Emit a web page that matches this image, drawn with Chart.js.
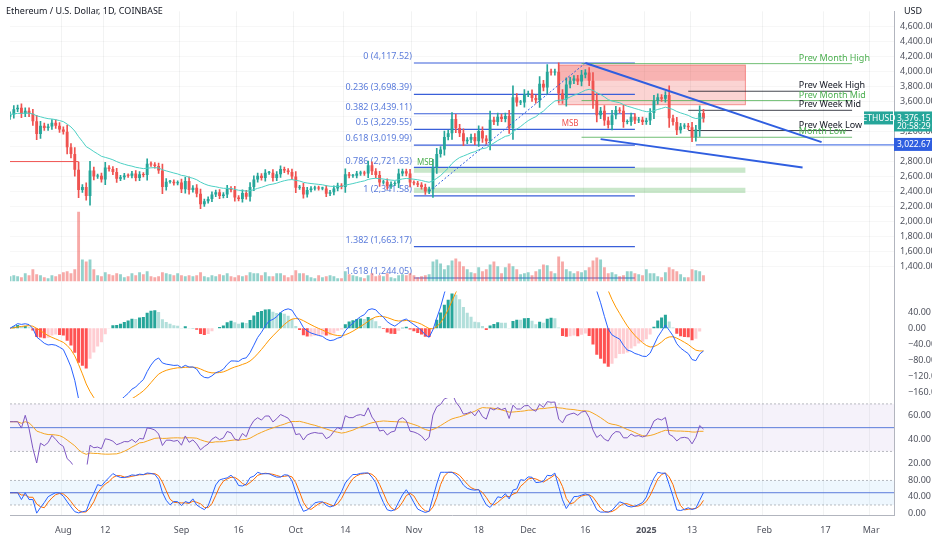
<!DOCTYPE html>
<html lang="en">
<head>
  <meta charset="UTF-8" />
  <title>ETHUSD 1D</title>
  <script src="https://cdn.jsdelivr.net/npm/chart.js"></script>
  <style>
    html, body { margin: 0; padding: 0; background: #fff; }
    #wrap { position: relative; width: 932px; height: 550px; }
    #title { position: absolute; left: 6px; top: 4px; font: 9px "Noto Sans", sans-serif; color: #131722; }
    #usd { position: absolute; right: 10px; top: 4px; font: 9px "Noto Sans", sans-serif; color: #131722; }
  </style>
</head>
<body>
<div id="wrap">
  <canvas id="c" width="932" height="550"></canvas>
  <div id="title">Ethereum / U.S. Dollar, 1D, COINBASE</div>
  <div id="usd">USD</div>
</div>
<script>
// daily closes, 2024-07-18 .. 2025-01-16
const closes = [
  3430,3500,3520,3440,3480,3440,3340,3170,3280,3250,3270,3320,3280,3230,
  3200,2990,2900,2690,2420,2460,2340,2680,2600,2610,2560,2720,2700,2660,2570,2590,2615,2610,2640,2580,2630,2620,2770,2760,2740,2680,2460,2530,2530,2510,2520,
  2430,2540,2420,2450,2370,2230,2270,2300,2360,2390,2340,2360,2440,2420,2320,2300,2380,2330,2460,2560,2610,2580,2650,2650,2580,2630,2700,2680,2660,2600,
  2450,2460,2360,2420,2440,2450,2440,2440,2370,2390,2440,2480,2460,2630,2610,2610,2640,2650,2640,2750,2670,2620,2520,2530,2470,2500,2510,2640,2670,2640,2520,
  2510,2490,2460,2400,2430,2720,2900,2960,3130,3180,3370,3250,3180,3070,3090,3130,3070,3210,3110,3070,3360,3330,3400,3370,3410,3250,3660,3590,3590,3700,
  3710,3650,3620,3840,3790,4000,3990,4000,3710,3630,3830,3880,3910,3870,3960,3990,3880,3620,3420,3480,3350,3290,3420,3490,3480,3330,3330,3400,3350,3360,3330,
  3350,3450,3610,3660,3640,3690,3380,3330,3220,3270,3280,3260,3130,3230,3450,3376.15
];
const firstOpen = 3400;
const volumes = [
  5,6,5,4,8,6,12,7,6,4,3,6,5,7,
  9,10,8,12,70,22,20,22,12,6,5,9,7,6,8,7,4,5,8,6,9,7,10,5,4,5,9,8,7,6,8,
  6,5,6,5,6,9,5,4,6,5,7,6,8,5,4,6,5,6,9,8,8,6,9,5,5,8,8,6,4,6,
  11,8,8,6,4,3,6,4,5,6,5,3,3,10,7,6,5,4,3,6,8,5,6,5,8,4,3,6,7,6,8,
  6,4,5,6,7,20,22,18,12,16,21,23,20,15,12,9,8,14,10,12,17,20,15,8,14,18,15,12,7,8,
  9,6,10,12,17,16,10,8,25,20,12,10,8,10,9,11,14,21,24,22,14,8,9,7,5,6,10,10,8,7,6,
  12,8,8,5,4,9,14,12,10,7,4,4,12,11,10,6
];
const fibLevels = [0, 0.236, 0.382, 0.5, 0.618, 0.786, 1, 1.382, 1.618];
const fibPrices = [4117.52, 3698.39, 3439.11, 3229.55, 3019.99, 2721.63, 2341.58, 1663.17, 1244.05];
const refLines = [
  { text: 'Prev Month High', price: 4109, color: '#4caf50', from: 150 },
  { text: 'Prev Week High', price: 3740, color: '#131722', from: 178 },
  { text: 'Prev Month Mid', price: 3615, color: '#4caf50', from: 150 },
  { text: 'Prev Week Mid', price: 3485, color: '#131722', from: 178 },
  { text: 'Prev Week Low', price: 3215, color: '#131722', from: 178 },
  { text: 'Month Low', price: 3125, color: '#4caf50', from: 150 }
];
const priceTicks = [1400,1600,1800,2000,2200,2400,2600,2800,3000,3200,3400,3600,3800,4000,4200,4400,4600];
const macdTicks = [40, 0, -40, -80, -120, -160];
const rsiTicks = [20, 40, 60];
const stochTicks = [0, 40, 80];
const tickDays = { '08-12': '12', '09-16': '16', '10-14': '14', '11-18': '18', '12-16': '16', '01-13': '13', '02-17': '17' };
const monthNames = ['2025','Feb','Mar','Apr','May','Jun','Jul','Aug','Sep','Oct','Nov','Dec'];

const labels = [];
const start = new Date(Date.UTC(2024, 6, 18));
for (let i = 0; i < 233; i++) {
  const d = new Date(start.getTime() + i * 86400000);
  labels.push(d.toISOString().slice(0, 10));
}

const UP = '#26a69a', DN = '#ef5350';
const opens = closes.map((c, i) => i === 0 ? firstOpen : closes[i - 1]);
const bodies = closes.map((c, i) => [opens[i], c]);
const wicks = closes.map((c, i) => {
  const hi = Math.max(opens[i], c), lo = Math.min(opens[i], c);
  const w = (hi - lo) * 0.3 + hi * 0.008;
  return [lo - w, hi + w];
});
const candleCol = closes.map((c, i) => c >= opens[i] ? UP : DN);
const volBars = volumes.map(v => [1200, 1200 + v * 13.3]);
const volCol = closes.map((c, i) => c >= opens[i] ? 'rgba(38,166,154,0.5)' : 'rgba(239,83,80,0.5)');

function ema(arr, n) {
  const k = 2 / (n + 1); let e = arr[0];
  return arr.map(v => (e = v * k + e * (1 - k)));
}
function sma(arr, n) {
  return arr.map((v, i) => { const s = arr.slice(Math.max(0, i - n + 1), i + 1); return s.reduce((a, b) => a + b, 0) / s.length; });
}
const ema20 = ema(closes, 20);
const ema26 = ema(closes, 26);
const macdLine = ema(closes, 12).map((v, i) => v - ema26[i]);
const signal = ema(macdLine, 9);
const hist = macdLine.map((v, i) => v - signal[i]);
const histCol = hist.map((h, i) => {
  const p = i ? hist[i - 1] : h;
  return h >= 0 ? (h >= p ? '#26a69a' : '#b2dfdb') : (h <= p ? '#ff5252' : '#ffcdd2');
});
// RSI 14 (Wilder)
let ag = 0, al = 0;
const rsi = closes.map((c, i) => {
  const ch = i ? c - closes[i - 1] : 0;
  ag = (ag * 13 + Math.max(ch, 0)) / 14; al = (al * 13 + Math.max(-ch, 0)) / 14;
  return i < 3 ? 55 : 100 - 100 / (1 + ag / (al || 1e-9));
});
const rsiMa = sma(rsi, 14);
const stochRaw = rsi.map((v, i) => {
  const s = rsi.slice(Math.max(0, i - 13), i + 1);
  const mn = Math.min(...s), mx = Math.max(...s);
  return mx === mn ? 50 : (v - mn) / (mx - mn) * 100;
});
const stochK = sma(stochRaw, 3);
const stochD = sma(stochK, 3);

const overlay = {
  id: 'overlay',
  beforeDatasetsDraw(chart) {
    const { ctx } = chart, x = chart.scales.x, y = chart.scales.y;
    const X = i => x.getPixelForValue(i), Y = p => y.getPixelForValue(p);
    ctx.save();
    const r = chart.scales.yRsi, s = chart.scales.yStoch, a = chart.chartArea;
    ctx.fillStyle = 'rgba(126,87,194,0.08)';
    ctx.fillRect(a.left, r.getPixelForValue(70), a.right - a.left, r.getPixelForValue(30) - r.getPixelForValue(70));
    ctx.fillStyle = 'rgba(33,150,243,0.08)';
    ctx.fillRect(a.left, s.getPixelForValue(80), a.right - a.left, s.getPixelForValue(20) - s.getPixelForValue(80));
    ctx.setLineDash([2, 2]); ctx.strokeStyle = 'rgba(120,123,134,0.5)'; ctx.lineWidth = 1;
    [[r, 70], [r, 30], [s, 80], [s, 20]].forEach(([sc, v]) => {
      ctx.beginPath(); ctx.moveTo(a.left, sc.getPixelForValue(v)); ctx.lineTo(a.right, sc.getPixelForValue(v)); ctx.stroke();
    });
    ctx.setLineDash([]);
    ctx.strokeStyle = '#5b7cdb';
    [[r, 50], [s, 50]].forEach(([sc, v]) => {
      ctx.beginPath(); ctx.moveTo(a.left, sc.getPixelForValue(v)); ctx.lineTo(a.right, sc.getPixelForValue(v)); ctx.stroke();
    });
    ctx.fillStyle = 'rgba(239,83,80,0.25)';
    ctx.fillRect(X(144), Y(4090), X(193) - X(144), Y(3560) - Y(4090));
    ctx.fillRect(X(144), Y(4090), X(193) - X(144), Y(3880) - Y(4090));
    ctx.strokeStyle = 'rgba(239,83,80,0.6)';
    ctx.strokeRect(X(144), Y(4090), X(193) - X(144), Y(3560) - Y(4090));
    ctx.fillStyle = 'rgba(76,175,80,0.3)';
    ctx.fillRect(X(106), Y(2720), X(193) - X(106), Y(2650) - Y(2720));
    ctx.fillRect(X(106), Y(2450), X(193) - X(106), Y(2380) - Y(2450));
    ctx.strokeStyle = DN; ctx.beginPath(); ctx.moveTo(a.left, Y(2800)); ctx.lineTo(X(18), Y(2800)); ctx.stroke();
    ctx.font = '9px "Noto Sans", sans-serif'; ctx.textAlign = 'right'; ctx.textBaseline = 'bottom';
    fibPrices.forEach((p, i) => {
      ctx.strokeStyle = '#3a5fd9'; ctx.lineWidth = 1.2;
      ctx.beginPath(); ctx.moveTo(X(106), Y(p)); ctx.lineTo(X(164), Y(p)); ctx.stroke();
      ctx.fillStyle = '#5b7cdb';
      ctx.fillText(fibLevels[i] + ' (' + p.toLocaleString('en-US', { minimumFractionDigits: 2 }) + ')', X(106) - 2, Y(p) - 2);
    });
    ctx.textAlign = 'left';
    refLines.forEach(l => {
      ctx.strokeStyle = l.color; ctx.lineWidth = 0.8;
      ctx.beginPath(); ctx.moveTo(X(l.from), Y(l.price)); ctx.lineTo(X(221), Y(l.price)); ctx.stroke();
      ctx.fillStyle = l.color; ctx.fillText(l.text, X(207), Y(l.price) - 1);
    });
    ctx.restore();
  },
  afterDatasetsDraw(chart) {
    const { ctx } = chart, x = chart.scales.x, y = chart.scales.y;
    const X = i => x.getPixelForValue(i), Y = p => y.getPixelForValue(p);
    ctx.save();
    ctx.strokeStyle = '#2f5ee0'; ctx.lineWidth = 2;
    ctx.beginPath(); ctx.moveTo(X(151), Y(4117)); ctx.lineTo(X(213), Y(3060)); ctx.stroke();
    ctx.beginPath(); ctx.moveTo(X(155), Y(3100)); ctx.lineTo(X(208), Y(2720)); ctx.stroke();
    ctx.lineWidth = 1; ctx.setLineDash([2, 2]);
    ctx.beginPath(); ctx.moveTo(X(110), Y(2400)); ctx.lineTo(X(151), Y(4117)); ctx.stroke();
    ctx.setLineDash([]);
    ctx.beginPath(); ctx.moveTo(X(180), Y(3022.67)); ctx.lineTo(chart.chartArea.right, Y(3022.67)); ctx.stroke();
    ctx.font = '8px "Noto Sans", sans-serif'; ctx.fillStyle = DN; ctx.textAlign = 'center';
    ctx.fillText('MSB', X(147), Y(3270));
    ctx.fillStyle = '#4caf50'; ctx.fillText('MSB', X(109), Y(2760));
    const ax = chart.chartArea.right;
    function tag(p, bg, txt, sub) {
      const yy = Y(p);
      ctx.fillStyle = bg; ctx.fillRect(ax, yy - 7, 38, sub ? 20 : 13);
      ctx.fillStyle = '#fff'; ctx.textAlign = 'left'; ctx.textBaseline = 'middle';
      ctx.font = '8.5px "Noto Sans", sans-serif'; ctx.fillText(txt, ax + 3, yy);
      if (sub) ctx.fillText(sub, ax + 3, yy + 8);
    }
    tag(3376.15, UP, '3,376.15', '20:58:29');
    ctx.fillStyle = UP; ctx.fillRect(ax - 30, Y(3376.15) - 7, 29, 13);
    ctx.fillStyle = '#fff'; ctx.textAlign = 'center'; ctx.fillText('ETHUSD', ax - 15, Y(3376.15));
    tag(3022.67, '#2f5ee0', '3,022.67');
    ctx.restore();
  }
};

const fit = s => { s.width = 38; };
const setTicks = list => s => { s.ticks = list.map(v => ({ value: v })); };
const tickFont = { size: 9, family: '"Noto Sans", sans-serif' };
const fmt2 = v => v.toLocaleString('en-US', { minimumFractionDigits: 2 }).replace('-', '\u2212');
new Chart(document.getElementById('c'), {
  data: {
    labels: labels,
    datasets: [
      { type: 'bar', data: volBars, backgroundColor: volCol, yAxisID: 'y', barPercentage: 0.75, categoryPercentage: 1, grouped: false, order: 5 },
      { type: 'bar', data: wicks, backgroundColor: candleCol, yAxisID: 'y', barThickness: 1, grouped: false, order: 3 },
      { type: 'bar', data: bodies, backgroundColor: candleCol, yAxisID: 'y', barPercentage: 0.75, categoryPercentage: 1, grouped: false, order: 2, minBarLength: 1 },
      { type: 'line', data: ema20, borderColor: '#4dd0c4', borderWidth: 1, pointRadius: 0, yAxisID: 'y', order: 1 },
      { type: 'bar', data: hist, backgroundColor: histCol, yAxisID: 'yMacd', barPercentage: 0.8, categoryPercentage: 1, grouped: false, order: 4 },
      { type: 'line', data: macdLine, borderColor: '#2962ff', borderWidth: 1, pointRadius: 0, yAxisID: 'yMacd', order: 1 },
      { type: 'line', data: signal, borderColor: '#ff9800', borderWidth: 1, pointRadius: 0, yAxisID: 'yMacd', order: 1 },
      { type: 'line', data: rsi, borderColor: '#7e57c2', borderWidth: 1, pointRadius: 0, yAxisID: 'yRsi', order: 1 },
      { type: 'line', data: rsiMa, borderColor: '#f5a623', borderWidth: 1, pointRadius: 0, yAxisID: 'yRsi', order: 1 },
      { type: 'line', data: stochK, borderColor: '#2962ff', borderWidth: 1, pointRadius: 0, yAxisID: 'yStoch', order: 1 },
      { type: 'line', data: stochD, borderColor: '#ff6d00', borderWidth: 1, pointRadius: 0, yAxisID: 'yStoch', order: 1 }
    ]
  },
  options: {
    responsive: false, animation: false,
    layout: { padding: { top: 0, left: 0, right: 0, bottom: 4 } },
    plugins: { legend: { display: false }, tooltip: { enabled: false } },
    scales: {
      x: {
        offset: false,
        grid: { color: ctx => ctx.tick && ctx.tick.label ? 'rgba(42,46,57,0.06)' : 'transparent', drawTicks: false },
        border: { color: '#b2b5be' },
        ticks: {
          autoSkip: false, maxRotation: 0, color: '#50535e', padding: 10,
          font: ctx => ({ size: 9, family: '"Noto Sans", sans-serif', weight: ctx.tick && ctx.tick.label === '2025' ? 'bold' : 'normal' }),
          callback: function (v) {
            const l = this.getLabelForValue(v), md = l.slice(5);
            if (md.endsWith('-01')) return monthNames[(+md.slice(0, 2)) - 1];
            return tickDays[md] || '';
          }
        }
      },
      y: {
        position: 'right', stack: 'panes', stackWeight: 282, min: 1062, max: 4807, afterFit: fit,
        afterBuildTicks: setTicks(priceTicks),
        grid: { color: 'rgba(42,46,57,0.04)', drawTicks: false }, border: { color: '#b2b5be' },
        ticks: { autoSkip: false, font: tickFont, color: '#50535e', padding: 6, callback: v => fmt2(v) }
      },
      yMacd: {
        position: 'right', stack: 'panes', stackWeight: 107, min: -173, max: 91, afterFit: fit,
        afterBuildTicks: setTicks(macdTicks),
        grid: { display: false }, border: { color: '#b2b5be' },
        ticks: { autoSkip: false, font: tickFont, color: '#50535e', padding: 6, callback: v => fmt2(v) }
      },
      yRsi: {
        position: 'right', stack: 'panes', stackWeight: 67, min: 19, max: 75, afterFit: fit,
        afterBuildTicks: setTicks(rsiTicks),
        grid: { display: false }, border: { color: '#b2b5be' },
        ticks: { autoSkip: false, font: tickFont, color: '#50535e', padding: 6, callback: v => fmt2(v) }
      },
      yStoch: {
        position: 'right', stack: 'panes', stackWeight: 51, min: -5, max: 119, afterFit: fit,
        afterBuildTicks: setTicks(stochTicks),
        grid: { display: false }, border: { color: '#b2b5be' },
        ticks: { autoSkip: false, font: tickFont, color: '#50535e', padding: 6, callback: v => fmt2(v) }
      }
    }
  },
  plugins: [overlay]
});
</script>
</body>
</html>
